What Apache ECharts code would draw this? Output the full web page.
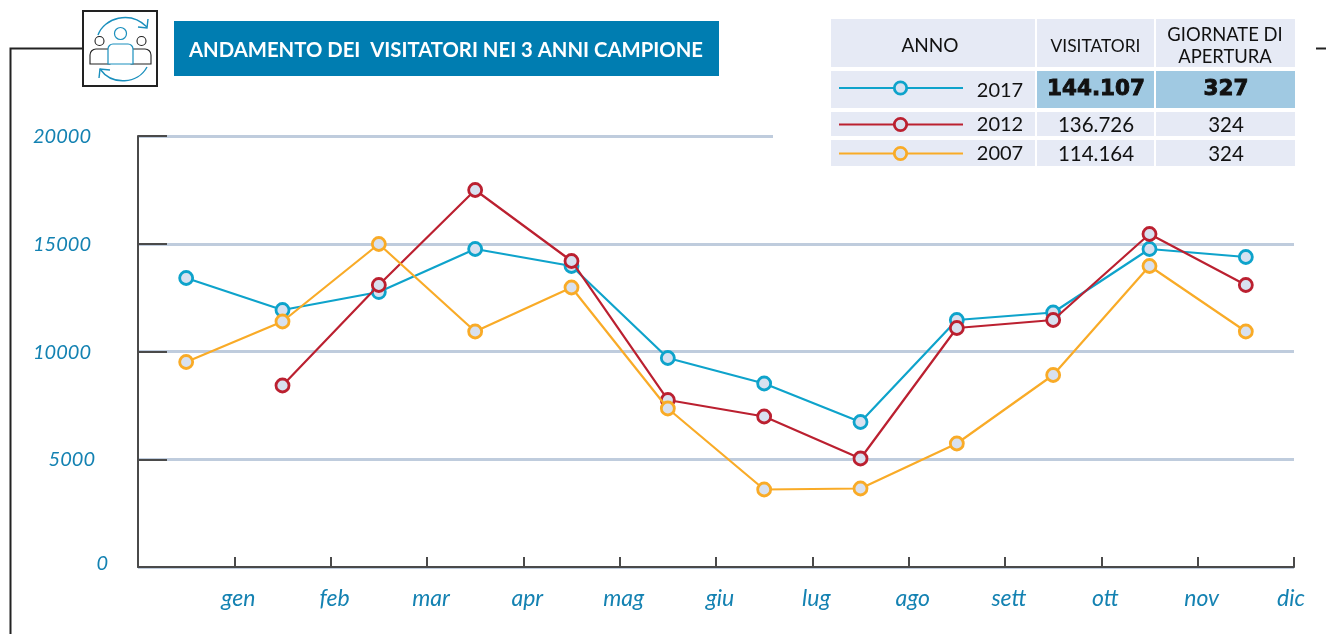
<!DOCTYPE html>
<html>
<head>
<meta charset="utf-8">
<title>Andamento dei visitatori</title>
<script src="https://cdn.jsdelivr.net/npm/echarts@6/dist/echarts.min.js"></script>
<style>
  html, body { margin: 0; padding: 0; background: #fff; }
  #chart { width: 1326px; height: 634px; }
</style>
</head>
<body>
<div id="chart"></div>
<script>
// dati
var months = ['gen', 'feb', 'mar', 'apr', 'mag', 'giu', 'lug', 'ago', 'sett', 'ott', 'nov', 'dic'];
var visitors2017 = [13410, 11925, 12760, 14756, 13967, 9698, 8515, 6729, 11462, 11810, 14756, 14385];
var visitors2012 = [null, 8422, 13086, 17494, 14200, 7750, 6984, 5035, 11090, 11462, 15452, 13086];
var visitors2007 = [9513, 11392, 14988, 10928, 12970, 7355, 3596, 3643, 5731, 8910, 13967, 10928];

var titleText = 'ANDAMENTO DEI  VISITATORI NEI 3 ANNI CAMPIONE';
var tableHead = ['ANNO', 'VISITATORI', 'GIORNATE DI\nAPERTURA'];
var tableYears = ['2017', '2012', '2007'];
var tableVisitors = ['144.107', '136.726', '114.164'];
var tableDays = ['327', '324', '324'];

var BLUE = '#0ea3cb', RED = '#bb2030', ORANGE = '#f9ab27';
var MARK_FILL = '#d8e1f0', TEXT_BLUE = '#1482b2', FONT = 'Lato';
var CELL = '#e6eaf5', CELL_HI = '#a0c9e2', AXIS = '#4a4a4a';

function makeSeries(name, data, color, z) {
  return {
    name: name,
    type: 'line',
    data: data,
    z: z,
    symbol: 'circle',
    symbolSize: 13,
    showSymbol: true,
    connectNulls: false,
    lineStyle: { color: color, width: 2.2 },
    itemStyle: { color: MARK_FILL, borderColor: color, borderWidth: 2.8 },
    emphasis: { disabled: true }
  };
}

// tabella in alto a destra
function tableGraphics() {
  var out = [];
  var colX = [831, 1037, 1156];
  var colW = [204, 117, 139];
  var rowY = [71, 112, 140];
  var rowH = [37, 24, 26];
  var glyphY = [88, 124.5, 153.5];
  var headX = [930, 1095.5, 1225];
  var headSize = [19, 17.4, 18.4];
  var colors = [BLUE, RED, ORANGE];
  var cell = function (x, y, w, h, fill) {
    return { type: 'rect', z: 10, shape: { x: x, y: y, width: w, height: h }, style: { fill: fill } };
  };
  var label = function (x, y, txt, size, weight, family, heavy) {
    return {
      type: 'text', z: 12, x: x, y: y,
      style: {
        text: txt, fill: '#111', fontFamily: family || FONT, fontSize: size, fontWeight: weight || 'normal',
        align: 'center', verticalAlign: 'middle', lineHeight: 22,
        stroke: heavy ? '#111' : null, lineWidth: heavy ? 0.9 : 0
      }
    };
  };
  // copre la griglia a 20000 dietro la tabella
  out.push({ type: 'rect', z: 5, shape: { x: 773, y: 130, width: 525, height: 12 }, style: { fill: '#fff' } });
  for (var c = 0; c < 3; c++) {
    out.push(cell(colX[c], 19, colW[c], 48, CELL));
    out.push(label(headX[c], 46, tableHead[c], headSize[c]));
  }
  for (var r = 0; r < 3; r++) {
    var hi = r === 0;
    var cy = rowY[r] + rowH[r] / 2;
    out.push(cell(colX[0], rowY[r], colW[0], rowH[r], CELL));
    out.push(cell(colX[1], rowY[r], colW[1], rowH[r], hi ? CELL_HI : CELL));
    out.push(cell(colX[2], rowY[r], colW[2], rowH[r], hi ? CELL_HI : CELL));
    out.push({ type: 'line', z: 11, shape: { x1: 839, y1: glyphY[r], x2: 963, y2: glyphY[r] }, style: { stroke: colors[r], lineWidth: 2 } });
    out.push({ type: 'circle', z: 12, shape: { cx: 900.5, cy: glyphY[r], r: 6.2 }, style: { fill: MARK_FILL, stroke: colors[r], lineWidth: 2.8 } });
    out.push(label(1000, cy + 1, tableYears[r], 20));
    if (hi) {
      out.push(label(1096, cy, tableVisitors[r], 21.5, 'bold', 'DejaVu Sans', true));
      out.push(label(1226, cy, tableDays[r], 21.5, 'bold', 'DejaVu Sans', true));
    } else {
      out.push(label(1096, cy + 1, tableVisitors[r], 20.5));
      out.push(label(1226, cy + 1, tableDays[r], 20.5));
    }
  }
  return out;
}

// riquadro con icona, titolo e filetti
function headerGraphics() {
  var dark = '#222222', iconBlue = '#1a8fbd';
  var curve = function (x1, y1, cx1, cy1, cx2, cy2, x2, y2) {
    return { type: 'bezierCurve', z: 10, shape: { x1: x1, y1: y1, cpx1: cx1, cpy1: cy1, cpx2: cx2, cpy2: cy2, x2: x2, y2: y2 }, style: { fill: null, stroke: iconBlue, lineWidth: 1.4 } };
  };
  var arrow = function (points) {
    return { type: 'polyline', z: 10, shape: { points: points }, style: { fill: null, stroke: iconBlue, lineWidth: 1.4 } };
  };
  var body = function (x, w, radius, color, lw, top) {
    return { type: 'rect', z: 10, shape: { x: x, y: top, width: w, height: 64 - top, r: radius }, style: { fill: '#fff', stroke: color, lineWidth: lw } };
  };
  return [
    { type: 'polyline', z: 9, shape: { points: [[83, 48.5], [10.5, 48.5], [10.5, 634]] }, style: { fill: null, stroke: dark, lineWidth: 2 } },
    { type: 'line', z: 9, shape: { x1: 1316, y1: 48.5, x2: 1326, y2: 48.5 }, style: { stroke: dark, lineWidth: 2 } },
    { type: 'rect', z: 9, shape: { x: 83, y: 11, width: 74, height: 75 }, style: { fill: '#fff', stroke: dark, lineWidth: 2 } },
    // frecce circolari
    curve(98, 35, 104, 18, 130, 10, 147, 27),
    arrow([[148, 19], [147, 28], [138, 27]]),
    curve(147, 67, 138, 84, 112, 86, 100, 69),
    arrow([[99, 78], [100, 69], [110, 70]]),
    // persone
    { type: 'circle', z: 10, shape: { cx: 120.5, cy: 33.5, r: 6 }, style: { fill: '#fff', stroke: iconBlue, lineWidth: 1.2 } },
    { type: 'circle', z: 10, shape: { cx: 99.5, cy: 41, r: 4.5 }, style: { fill: '#fff', stroke: dark, lineWidth: 1.1 } },
    { type: 'circle', z: 10, shape: { cx: 141.5, cy: 41, r: 4.5 }, style: { fill: '#fff', stroke: dark, lineWidth: 1.1 } },
    body(90, 20, [6, 0, 0, 0], dark, 1.1, 49),
    body(131, 20, [0, 6, 0, 0], dark, 1.1, 49),
    body(108, 25, [5, 5, 0, 0], iconBlue, 1.2, 44),
    // titolo
    { type: 'rect', z: 9, shape: { x: 174, y: 21, width: 545, height: 55 }, style: { fill: '#007db1' } },
    {
      type: 'text', z: 10, x: 189, y: 50,
      style: { text: titleText, fill: '#fff', fontFamily: FONT, fontSize: 20.3, fontWeight: 'bold', verticalAlign: 'middle' }
    }
  ];
}

var chart = echarts.init(document.getElementById('chart'));

var monthStyle = { fontFamily: FONT, fontStyle: 'italic', fontSize: 23, color: TEXT_BLUE };
var valueStyle = { fontFamily: FONT, fontStyle: 'italic', fontSize: 20, color: TEXT_BLUE };

var option = {
  backgroundColor: '#ffffff',
  animation: false,
  grid: { left: 138, right: 32, top: 136, bottom: 67 },
  xAxis: [{
    type: 'category',
    data: months,
    boundaryGap: true,
    axisLine: { lineStyle: { color: AXIS, width: 2 } },
    axisTick: { show: true, interval: 0, inside: true, length: 10, alignWithLabel: false, lineStyle: { color: AXIS, width: 2 } },
    axisLabel: { show: false },
    splitLine: { show: false }
  }, {
    // solo per le etichette dei mesi, che stanno sulle tacche
    type: 'value',
    min: 0,
    max: 12,
    interval: 1,
    position: 'bottom',
    axisLine: { show: false },
    axisTick: { show: false },
    splitLine: { show: false },
    axisLabel: {
      margin: 20,
      fontFamily: FONT,
      fontStyle: 'italic',
      fontSize: 23,
      color: TEXT_BLUE,
      formatter: function (v) {
        if (v === 0) return '';
        return (v === 12 ? '{e|' : '{m|') + months[v - 1] + '}';
      },
      rich: {
        m: Object.assign({ padding: [0, 0, 0, 8] }, monthStyle),
        e: Object.assign({ padding: [0, 6, 0, 0] }, monthStyle)
      }
    }
  }],
  yAxis: {
    type: 'value',
    min: 0,
    max: 20000,
    interval: 5000,
    axisLine: { show: true, lineStyle: { color: AXIS, width: 2 } },
    axisTick: { show: true, inside: true, length: 29, lineStyle: { color: AXIS, width: 2 } },
    splitLine: { show: true, lineStyle: { color: '#bfccdd', width: 3 } },
    axisLabel: {
      margin: 30,
      formatter: function (v) {
        if (v === 0) return '{z|0}';
        if (v === 5000) return '{c|5000}';
        return '{n|' + v + '}';
      },
      rich: {
        z: Object.assign({ padding: [0, 0, 6, 0] }, valueStyle),
        c: Object.assign({ padding: [0, 13, 0, 0] }, valueStyle),
        n: Object.assign({ padding: [2, 17, 0, 0] }, valueStyle)
      }
    }
  },
  series: [
    makeSeries('2017', visitors2017, BLUE, 3),
    makeSeries('2012', visitors2012, RED, 4),
    makeSeries('2007', visitors2007, ORANGE, 5)
  ],
  graphic: { elements: headerGraphics().concat(tableGraphics()) }
};

chart.setOption(option);
</script>
</body>
</html>
